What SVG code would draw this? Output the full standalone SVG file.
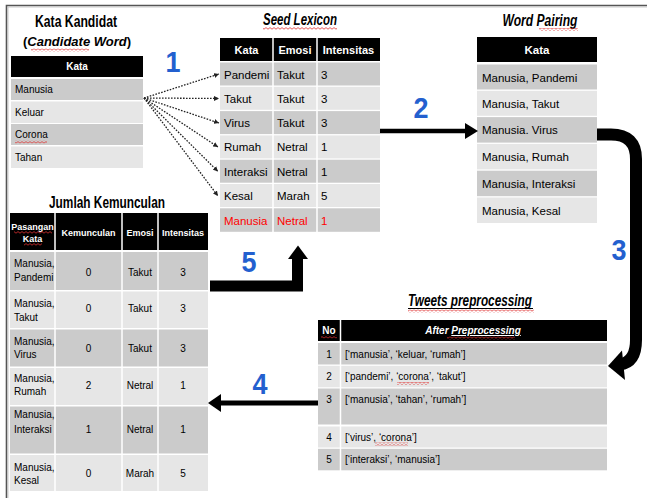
<svg xmlns="http://www.w3.org/2000/svg" width="647" height="498" viewBox="0 0 647 498">
<style>
text{font-family:"Liberation Sans",Arial,sans-serif;fill:#000}
.hd{fill:#000}
.dk{fill:#cbcbcb}
.lt{fill:#e6e6e6}
.sep{stroke:#fff;stroke-width:1.5}
.title{font-size:16px;font-weight:bold;text-anchor:middle}
.ti{font-style:italic}
.ht{fill:#fff;font-weight:bold;text-anchor:middle}
.num{font-size:30px;font-weight:bold;fill:#2360cf;text-anchor:middle}
.c{text-anchor:middle}
.red{fill:#ff0000}
.sq{fill:url(#sq)}
</style>
<defs>
<pattern id="sq" width="4" height="3" patternUnits="userSpaceOnUse">
<path d="M0,2.2 L2,0.6 L4,2.2" fill="none" stroke="#e03030" stroke-width="0.8"/>
</pattern>
<marker id="dh" viewBox="0 0 6 6" refX="6" refY="3" markerWidth="5" markerHeight="5" orient="auto" markerUnits="userSpaceOnUse">
<path d="M0,0 L6,3 L0,6 z" fill="#222"/>
</marker>
</defs>

<rect width="647" height="498" fill="#fff"/>
<path d="M6.5,498 V5.5 H647" fill="none" stroke="#555" stroke-width="1.6"/>
<path d="M8,498 V7 H647" fill="none" stroke="#bbb" stroke-width="0.8"/>

<g id="kata-kandidat">
<text class="title" x="76" y="27" textLength="82" lengthAdjust="spacingAndGlyphs">Kata Kandidat</text>
<text x="77" y="46" font-size="13" font-weight="bold" text-anchor="middle">(<tspan font-style="italic">Candidate Word</tspan>)</text>
<rect class="sq" x="31" y="48.5" width="58" height="3"/>
<rect class="hd" x="11" y="56" width="132" height="21"/>
<text class="ht" x="77" y="70" font-size="10">Kata</text>
<rect class="dk" x="11" y="79" width="132" height="21"/>
<rect class="lt" x="11" y="101.5" width="132" height="21.5"/>
<rect class="dk" x="11" y="124" width="132" height="21"/>
<rect class="lt" x="11" y="146.5" width="132" height="21.5"/>
<g font-size="10">
<text x="15" y="93">Manusia</text>
<text x="15" y="115.5">Keluar</text>
<text x="15" y="138">Corona</text>
<text x="15" y="160.5">Tahan</text>
</g>
<rect class="sq" x="15" y="140.5" width="32" height="3"/>
</g>

<g id="seed-lexicon">
<text class="title ti" x="300" y="25" textLength="74" lengthAdjust="spacingAndGlyphs">Seed Lexicon</text>
<rect class="sq" x="263" y="27" width="74" height="3"/>
<rect class="hd" x="220" y="38" width="160" height="23"/>
<g font-size="11">
<text class="ht" x="246.5" y="53.5">Kata</text>
<text class="ht" x="295" y="53.5">Emosi</text>
<text class="ht" x="348.5" y="53.5">Intensitas</text>
</g>
<rect class="dk" x="220" y="62.5" width="160" height="23"/>
<rect class="lt" x="220" y="86.8" width="160" height="23"/>
<rect class="dk" x="220" y="111.1" width="160" height="23"/>
<rect class="lt" x="220" y="135.4" width="160" height="23"/>
<rect class="dk" x="220" y="159.7" width="160" height="23"/>
<rect class="lt" x="220" y="184" width="160" height="23"/>
<rect class="dk" x="220" y="208.3" width="160" height="23.5"/>
<line class="sep" x1="273" y1="38" x2="273" y2="232"/>
<line class="sep" x1="317" y1="38" x2="317" y2="232"/>
<g font-size="11.5">
<text x="224" y="78.5">Pandemi</text><text x="277" y="78.5">Takut</text><text x="321" y="78.5">3</text>
<text x="224" y="102.8">Takut</text><text x="277" y="102.8">Takut</text><text x="321" y="102.8">3</text>
<text x="224" y="127.1">Virus</text><text x="277" y="127.1">Takut</text><text x="321" y="127.1">3</text>
<text x="224" y="151.4">Rumah</text><text x="277" y="151.4">Netral</text><text x="321" y="151.4">1</text>
<text x="224" y="175.7">Interaksi</text><text x="277" y="175.7">Netral</text><text x="321" y="175.7">1</text>
<text x="224" y="200">Kesal</text><text x="277" y="200">Marah</text><text x="321" y="200">5</text>
<text class="red" x="224" y="224.5">Manusia</text><text class="red" x="277" y="224.5">Netral</text><text class="red" x="321" y="224.5">1</text>
</g>
</g>

<g id="word-pairing">
<text class="title ti" x="540" y="26" textLength="75" lengthAdjust="spacingAndGlyphs">Word Pairing</text>
<rect class="sq" x="539" y="28" width="39" height="3"/>
<rect class="hd" x="477" y="37" width="120" height="25"/>
<text class="ht" x="537" y="53.5" font-size="11.5">Kata</text>
<rect class="dk" x="477" y="64.5" width="120" height="25"/>
<rect class="lt" x="477" y="90.8" width="120" height="25"/>
<rect class="dk" x="477" y="117.1" width="120" height="25.5"/>
<rect class="lt" x="477" y="143.9" width="120" height="25.5"/>
<rect class="dk" x="477" y="170.7" width="120" height="25.5"/>
<rect class="lt" x="477" y="197.5" width="120" height="25.5"/>
<g font-size="11.5">
<text x="482" y="81.5">Manusia, Pandemi</text>
<text x="482" y="107.8">Manusia, Takut</text>
<text x="482" y="134.3">Manusia. Virus</text>
<text x="482" y="161">Manusia, Rumah</text>
<text x="482" y="187.8">Manusia, Interaksi</text>
<text x="482" y="214.6">Manusia, Kesal</text>
</g>
</g>

<g id="jumlah-kemunculan">
<text class="title" x="107" y="208" textLength="116" lengthAdjust="spacingAndGlyphs">Jumlah Kemunculan</text>
<rect class="hd" x="10" y="213" width="198" height="37"/>
<rect class="dk" x="10" y="252" width="198" height="38"/>
<rect class="lt" x="10" y="291.5" width="198" height="36.5"/>
<rect class="dk" x="10" y="329.5" width="198" height="37"/>
<rect class="lt" x="10" y="368" width="198" height="37"/>
<rect class="dk" x="10" y="406.5" width="198" height="47"/>
<rect class="lt" x="10" y="455" width="198" height="36"/>
<line class="sep" x1="55" y1="213" x2="55" y2="491"/>
<line class="sep" x1="122" y1="213" x2="122" y2="491"/>
<line class="sep" x1="158" y1="213" x2="158" y2="491"/>
<g font-size="9">
<text class="ht" x="32.5" y="230">Pasangan</text>
<text class="ht" x="32.5" y="242">Kata</text>
<text class="ht" x="88.5" y="236">Kemunculan</text>
<text class="ht" x="140" y="236">Emosi</text>
<text class="ht" x="183" y="236">Intensitas</text>
</g>
<rect class="sq" x="14" y="231" width="38" height="3"/>
<rect class="sq" x="24" y="243" width="18" height="3"/>
<g font-size="10">
<text x="14" y="267">Manusia,</text><text x="14" y="281">Pandemi</text>
<text class="c" x="88.5" y="276">0</text><text class="c" x="140" y="276">Takut</text><text class="c" x="183" y="276">3</text>
<text x="14" y="307">Manusia,</text><text x="14" y="321">Takut</text>
<text class="c" x="88.5" y="312">0</text><text class="c" x="140" y="312">Takut</text><text class="c" x="183" y="312">3</text>
<text x="14" y="345">Manusia,</text><text x="14" y="358">Virus</text>
<text class="c" x="88.5" y="352">0</text><text class="c" x="140" y="352">Takut</text><text class="c" x="183" y="352">3</text>
<text x="14" y="382">Manusia,</text><text x="14" y="395">Rumah</text>
<text class="c" x="88.5" y="389">2</text><text class="c" x="140" y="389">Netral</text><text class="c" x="183" y="389">1</text>
<text x="14" y="418">Manusia,</text><text x="14" y="433">Interaksi</text>
<text class="c" x="88.5" y="433">1</text><text class="c" x="140" y="433">Netral</text><text class="c" x="183" y="433">1</text>
<text x="14" y="471">Manusia,</text><text x="14" y="484">Kesal</text>
<text class="c" x="88.5" y="477">0</text><text class="c" x="140" y="477">Marah</text><text class="c" x="183" y="477">5</text>
</g>
</g>

<g id="tweets-preprocessing">
<text class="title ti" x="470" y="306" textLength="124" lengthAdjust="spacingAndGlyphs">Tweets preprocessing</text>
<line x1="408" y1="308.5" x2="533" y2="308.5" stroke="#000" stroke-width="1"/>
<rect class="sq" x="408" y="309.5" width="126" height="3"/>
<rect class="hd" x="318" y="320" width="289" height="21"/>
<rect class="dk" x="318" y="343" width="289" height="21.5"/>
<rect class="lt" x="318" y="365.8" width="289" height="21.5"/>
<rect class="dk" x="318" y="388.5" width="289" height="36"/>
<rect class="lt" x="318" y="426.5" width="289" height="21"/>
<rect class="dk" x="318" y="448.8" width="289" height="21.5"/>
<line class="sep" x1="340.5" y1="320" x2="340.5" y2="471"/>
<g font-size="10">
<text class="ht" x="329" y="334">No</text>
<text class="ht" x="473" y="334" font-style="italic">After <tspan text-decoration="underline">Preprocessing</tspan></text>
</g>
<rect class="sq" x="321" y="335.5" width="16" height="3"/>
<rect class="sq" x="447" y="336.5" width="68" height="3"/>
<g font-size="10">
<text class="c" x="329" y="357.5">1</text><text x="345" y="357.5">[‘manusia’, ‘keluar, ‘rumah’]</text>
<text class="c" x="329" y="380">2</text><text x="345" y="380">[‘pandemi’, ‘corona’, ‘takut’]</text>
<text class="c" x="329" y="403">3</text><text x="345" y="403">[‘manusia’, ‘tahan’, ‘rumah’]</text>
<text class="c" x="329" y="440.5">4</text><text x="345" y="440.5">[‘virus’, ‘corona’]</text>
<text class="c" x="329" y="463">5</text><text x="345" y="463">[‘interaksi’, ‘manusia’]</text>
</g>
<rect class="sq" x="397" y="382" width="32" height="3"/>
<rect class="sq" x="375" y="442.5" width="33" height="3"/>
</g>

<g id="connectors">
<g fill="none" stroke="#222" stroke-width="1.3" stroke-dasharray="1.6 1.4" marker-end="url(#dh)">
<line x1="144" y1="98" x2="219" y2="74"/>
<line x1="144" y1="98" x2="219" y2="98.5"/>
<line x1="144" y1="98" x2="219" y2="123"/>
<line x1="144" y1="98" x2="218" y2="147"/>
<line x1="144" y1="98" x2="218" y2="171.5"/>
<line x1="144" y1="98" x2="218" y2="196"/>
</g>
<line x1="380" y1="131" x2="468" y2="131" stroke="#000" stroke-width="4.5"/>
<polygon points="465,123 478,131 465,139" fill="#000"/>
<path d="M597,134.5 H611 Q636,134.5 636,159 V340 Q636,362 620,364.5" fill="none" stroke="#000" stroke-width="12"/>
<polygon points="608,366 622,350.5 625,380" fill="#000"/>
<line x1="318" y1="403" x2="219" y2="403" stroke="#000" stroke-width="5"/>
<polygon points="208,403 221,394 221,412" fill="#000"/>
<path d="M210,286 H297.5 V257" fill="none" stroke="#000" stroke-width="11" stroke-linejoin="miter"/>
<polygon points="298,245.5 288,259 308,259" fill="#000"/>
</g>

<g id="labels">
<text class="num" x="173" y="72" textLength="15" lengthAdjust="spacingAndGlyphs">1</text>
<text class="num" x="421" y="118" textLength="15" lengthAdjust="spacingAndGlyphs">2</text>
<text class="num" x="619" y="260" textLength="15" lengthAdjust="spacingAndGlyphs">3</text>
<text class="num" x="260" y="394" textLength="15" lengthAdjust="spacingAndGlyphs">4</text>
<text class="num" x="249" y="272" textLength="15" lengthAdjust="spacingAndGlyphs">5</text>
</g>
</svg>
